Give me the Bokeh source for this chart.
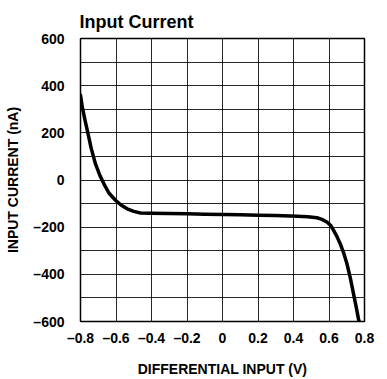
from bokeh.plotting import figure
from bokeh.embed import file_html
from bokeh.resources import INLINE
from bokeh.models import FixedTicker, Range1d

# Data
diff_input_v = [-0.800, -0.790, -0.775, -0.762, -0.740, -0.716, -0.690, -0.669, -0.640,
                -0.603, -0.570, -0.537, -0.500, -0.462, -0.406, -0.300, -0.200, -0.100,
                0.007, 0.100, 0.200, 0.300, 0.420, 0.480, 0.532, 0.560, 0.588, 0.610,
                0.626, 0.645, 0.663, 0.683, 0.701, 0.720, 0.738, 0.755, 0.766, 0.772]
input_current_na = [360, 310, 255, 211, 135, 69, 18, -15, -55,
                    -86, -107, -122, -133, -140, -141, -142, -143, -145,
                    -146, -147, -149, -151, -154, -156, -160, -167, -178, -193,
                    -214, -240, -270, -310, -355, -415, -482, -545, -589, -605]

x_ticks = [-0.8, -0.6, -0.4, -0.2, 0, 0.2, 0.4, 0.6, 0.8]
x_labels = ["–0.8", "–0.6", "–0.4", "–0.2", "0", "0.2", "0.4", "0.6", "0.8"]
y_ticks = [-600, -400, -200, 0, 200, 400, 600]
y_labels = ["–600", "–400", "–200", "0", "200", "400", "600"]
y_grid = [-500, -400, -300, -200, -100, 0, 100, 200, 300, 400, 500]
x_grid = [-0.6, -0.4, -0.2, 0, 0.2, 0.4, 0.6]
title_text = "Input Current"

FONT = "Liberation Sans"

p = figure(width=387, height=379, output_backend="svg", toolbar_location=None,
           x_range=Range1d(-0.8, 0.8), y_range=Range1d(-600, 600),
           min_border_left=80, min_border_right=23, min_border_top=38, min_border_bottom=58,
           title=title_text)

p.title.text_font = FONT
p.title.text_font_size = "18px"
p.title.text_font_style = "bold"
p.title.text_color = "black"
p.title.align = "left"
p.title.vertical_align = "top"
p.title.offset = -1
p.title.standoff = 10

p.outline_line_color = "black"
p.outline_line_width = 1.5
p.background_fill_color = "white"
p.border_fill_color = "white"

p.xaxis.ticker = FixedTicker(ticks=x_ticks)
p.yaxis.ticker = FixedTicker(ticks=y_ticks)
p.xaxis.major_label_overrides = {t: l for t, l in zip(x_ticks, x_labels)}
p.yaxis.major_label_overrides = {t: l for t, l in zip(y_ticks, y_labels)}

for ax in (p.xaxis, p.yaxis):
    ax.axis_line_color = None
    ax.major_tick_line_color = None
    ax.minor_tick_line_color = None
    ax.major_label_text_font = FONT
    ax.major_label_text_font_size = "14px"
    ax.major_label_text_font_style = "bold"
    ax.major_label_text_color = "black"
    ax.axis_label_text_font = FONT
    ax.axis_label_text_font_size = "14px"
    ax.axis_label_text_font_style = "bold"
    ax.axis_label_text_color = "black"

p.xaxis.axis_label = "DIFFERENTIAL INPUT (V)"
p.yaxis.axis_label = "INPUT CURRENT (nA)"
p.xaxis.major_label_standoff = 2
p.yaxis.major_label_standoff = 10
p.xaxis.axis_label_standoff = 12
p.yaxis.axis_label_standoff = 9

p.xgrid.ticker = FixedTicker(ticks=x_grid)
p.ygrid.ticker = FixedTicker(ticks=y_grid)
p.xgrid.grid_line_color = "black"
p.ygrid.grid_line_color = "black"
p.xgrid.grid_line_width = 1
p.ygrid.grid_line_width = 1
p.xgrid.grid_line_alpha = 0.85
p.ygrid.grid_line_alpha = 0.85

p.line(diff_input_v, input_current_na, line_color="black", line_width=3.5,
       line_join="round", line_cap="round")

open("out.html", "w").write(file_html(p, INLINE))
